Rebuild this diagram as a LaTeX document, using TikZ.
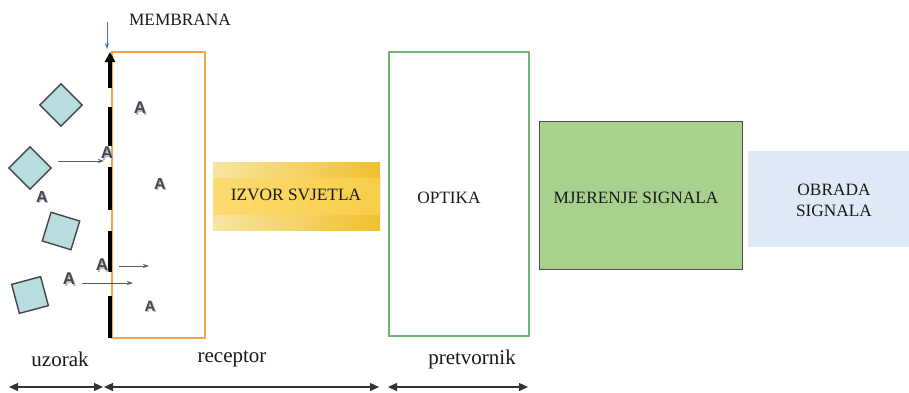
\documentclass[tikz,border=0pt]{standalone}
\usepackage{fontspec}
\setmainfont{Liberation Serif}
\newfontfamily\asans{Liberation Sans}
\usetikzlibrary{arrows.meta}
\definecolor{orng}{HTML}{F5A445}
\definecolor{grn}{HTML}{72B472}
\definecolor{mgreen}{HTML}{A9D18E}
\definecolor{lblue}{HTML}{DEEAF6}
\definecolor{sqfill}{HTML}{B7DDE0}
\definecolor{sqdraw}{HTML}{454545}
\definecolor{ylight}{HTML}{F7E5A2}
\definecolor{ydark}{HTML}{F0C02E}
\definecolor{ymidl}{HTML}{FCDB70}
\definecolor{ymidr}{HTML}{F7CD48}
\definecolor{arrblue}{HTML}{4472C4}
\begin{document}
\begin{tikzpicture}[x=1pt,y=-1pt,
  lbl/.style={font=\fontsize{17.3}{20}\selectfont, text=black!90, inner sep=0},
  blbl/.style={font=\fontsize{21}{24}\selectfont, text=black!90, inner sep=0},
  sq/.style={draw=sqdraw, line width=1.4pt, fill=sqfill, minimum size=30pt, inner sep=0},
  alet/.style={text=black!72, inner sep=0},
  ashadow/.style={text=blue!25!gray!45, inner sep=0},
  thinarr/.style={draw=black!65, line width=0.8pt, -{Stealth[length=6pt,width=4pt]}},
  dim/.style={draw=black!80, line width=1.4pt, {Triangle[length=9pt,width=8pt]}-{Triangle[length=9pt,width=8pt]}},
  memb/.style={line width=4pt, black}
]
\useasboundingbox (0,0) rectangle (909,392);

% boxes
\node[draw=orng, line width=1.2pt, minimum width=93pt, minimum height=286pt, inner sep=0] (rec) at (158.5,195) {};
\node[draw=grn, line width=1.2pt, minimum width=140pt, minimum height=284pt, inner sep=0] (opt) at (459,194) {};
\node[lbl] (optt) at (449,198) {OPTIKA};
\node[draw=black!70, line width=1pt, fill=mgreen, minimum width=203pt, minimum height=148pt, inner sep=0] (mjer) at (640.5,195) {};
\node[lbl] (mjert) at (636,198) {MJERENJE SIGNALA};
\node[fill=lblue, minimum width=161pt, minimum height=96pt, inner sep=0] (obr) at (828.5,199) {};
\node[lbl, align=center, font=\fontsize{17.3}{21}\selectfont] (obrt) at (834,200) {OBRADA\\SIGNALA};

% light source
\shade[left color=ylight, right color=ydark] (213,162) rectangle (380,230);
\shade[left color=ymidl, right color=ymidr] (213,178) rectangle (380,214);
\node[lbl] (izv) at (296,195) {IZVOR SVJETLA};

% membrane
\draw[memb, -{Triangle[length=10pt,width=10pt]}] (110,88) -- (110,52);
\draw[memb] (110,107) -- (110,146);
\draw[memb] (110,167) -- (110,210);
\draw[memb] (110,231) -- (110,272);
\draw[memb] (110,296) -- (110,338);
\node[lbl] (memt) at (180,20) {MEMBRANA};
\coordinate (bt) at (107,22);
\coordinate (bb) at (107,49);
\draw[arrblue, line width=0.8pt, -{Stealth[length=6pt,width=4pt]}] (bt) -- (bb);

% particles
\node[sq, rotate=45] (d1) at (61,105) {};
\node[sq, rotate=45] (d2) at (30,168) {};
\node[sq, rotate=-17] (d3) at (61,231) {};
\node[sq, rotate=15] (d4) at (30,295) {};

% letters A
\foreach \n/\x/\y/\s in {a1/140/108/17, a2/107/153/17, a3/160/184/16, a4/42/197/16, a5/102/265/17, a6/69/279/17, a7/150/306/15}{
  \node[ashadow, font=\asans\bfseries\fontsize{\s}{\s}\selectfont] at (\x+1.2,\y+1.2) {A};
  \node[alet, font=\asans\bfseries\fontsize{\s}{\s}\selectfont] (\n) at (\x,\y) {A};
}

% small arrows
\coordinate (s1a) at (58,161); \coordinate (s1b) at (104,161);
\coordinate (s2a) at (119,266); \coordinate (s2b) at (149,266);
\coordinate (s3a) at (82,283); \coordinate (s3b) at (133,283);
\draw[thinarr] (s1a) -- (s1b);
\draw[thinarr] (s2a) -- (s2b);
\draw[thinarr] (s3a) -- (s3b);

% bottom labels
\node[blbl] (uz) at (60,359) {uzorak};
\node[blbl] (re) at (232,359) {receptor};
\node[blbl] (pr) at (472,359) {pretvornik};
\coordinate (u1) at (9,387); \coordinate (u2) at (103,387);
\coordinate (r1) at (104,387); \coordinate (r2) at (379,387);
\coordinate (p1) at (388,387); \coordinate (p2) at (528,387);
\draw[dim] (u1) -- (u2);
\draw[dim] (r1) -- (r2);
\draw[dim] (p1) -- (p2);
\end{tikzpicture}
\end{document}
